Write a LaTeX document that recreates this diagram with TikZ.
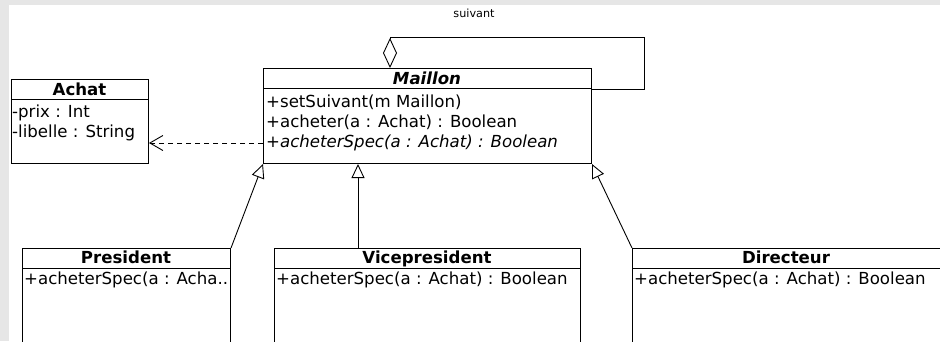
\documentclass[tikz,border=0pt]{standalone}
\usepackage{fontspec}
\setmainfont{DejaVu Sans}
\usetikzlibrary{arrows.meta}
\definecolor{canvasgray}{RGB}{230,230,230}
\begin{document}
\begin{tikzpicture}[x=1pt,y=-1pt,
  every node/.style={font=\fontsize{16.6}{20}\selectfont, inner sep=0pt},
  umlbox/.style={draw=black, fill=white, line width=1pt, rectangle, anchor=north west},
  title/.style={font=\fontsize{16.6}{20}\selectfont\bfseries, anchor=base},
  member/.style={anchor=base west},
  gen/.style={line width=0.9pt, -{Triangle[open, length=14pt, width=13pt]}},
  dep/.style={line width=0.9pt, dash pattern=on 5pt off 4pt, -{Straight Barb[length=13pt, width=15pt]}},
  agg/.style={line width=0.9pt, {Diamond[open, length=30pt, width=14pt]}-},
  sep/.style={line width=1pt}]

% canvas
\useasboundingbox (0,0) rectangle (940,341);
\clip (0,0) rectangle (940,341);
\fill[canvasgray] (0,0) rectangle (940,341);
\fill[white] (9,5) rectangle (940,341);

% Achat
\node[umlbox, minimum width=137pt, minimum height=84pt] (achat) at (11,79) {};
\draw[sep] ([yshift=-20pt]achat.north west) -- ([yshift=-20pt]achat.north east);
\node[title] (achatT) at (79.5,95) {Achat};
\node[member] (achatA1) at (12,117) {-prix : Int};
\node[member] (achatA2) at (12,137) {-libelle : String};

% Maillon
\node[umlbox, minimum width=328pt, minimum height=95pt] (maillon) at (263,68) {};
\draw[sep] ([yshift=-20pt]maillon.north west) -- ([yshift=-20pt]maillon.north east);
\node[title, font=\fontsize{16.6}{20}\selectfont\bfseries\itshape] (maillonT) at (427,84) {Maillon};
\node[member] (maillonM1) at (266,107) {+setSuivant(m Maillon)};
\node[member] (maillonM2) at (266,127) {+acheter(a : Achat) : Boolean};
\node[member, font=\fontsize{16.6}{20}\selectfont\itshape] (maillonM3) at (266,147) {+acheterSpec(a : Achat) : Boolean};

% President
\node[umlbox, minimum width=208pt, minimum height=130pt] (president) at (22,248) {};
\draw[sep] ([yshift=-20pt]president.north west) -- ([yshift=-20pt]president.north east);
\node[title] (presidentT) at (126,263) {President};
\node[member] (presidentM1) at (24,284) {+acheterSpec(a : Acha..};

% Vicepresident
\node[umlbox, minimum width=306pt, minimum height=130pt] (vice) at (274,248) {};
\draw[sep] ([yshift=-20pt]vice.north west) -- ([yshift=-20pt]vice.north east);
\node[title] (viceT) at (427,263) {Vicepresident};
\node[member] (viceM1) at (276,284) {+acheterSpec(a : Achat) : Boolean};

% Directeur
\node[umlbox, minimum width=330pt, minimum height=130pt] (directeur) at (632,248) {};
\draw[sep] ([yshift=-20pt]directeur.north west) -- ([yshift=-20pt]directeur.north east);
\node[title] (directeurT) at (786,263) {Directeur};
\node[member] (directeurM1) at (634,284) {+acheterSpec(a : Achat) : Boolean};

% dependency Maillon -> Achat
\coordinate (depstart) at ([yshift=-75pt]maillon.north west);
\draw[dep] (depstart) -- (achat.east |- depstart);

% generalisations
\draw[gen] (president.north east) -- (maillon.south west);
\coordinate (vicetop) at ([xshift=84pt]vice.north west);
\draw[gen] (vicetop) -- (vicetop |- maillon.south);
\draw[gen] (directeur.north west) -- (maillon.south east);

% self aggregation "suivant"
\coordinate (aggtop) at ([xshift=127pt]maillon.north west);
\coordinate (loopend) at ([yshift=-21pt]maillon.north east);
\draw[agg] (aggtop) -- ++(0,-31) -| ([xshift=52pt]loopend) -- (loopend);
\node[font=\fontsize{11.2}{13}\selectfont, anchor=base] (suivant) at (474,17) {suivant};
\end{tikzpicture}
\end{document}
